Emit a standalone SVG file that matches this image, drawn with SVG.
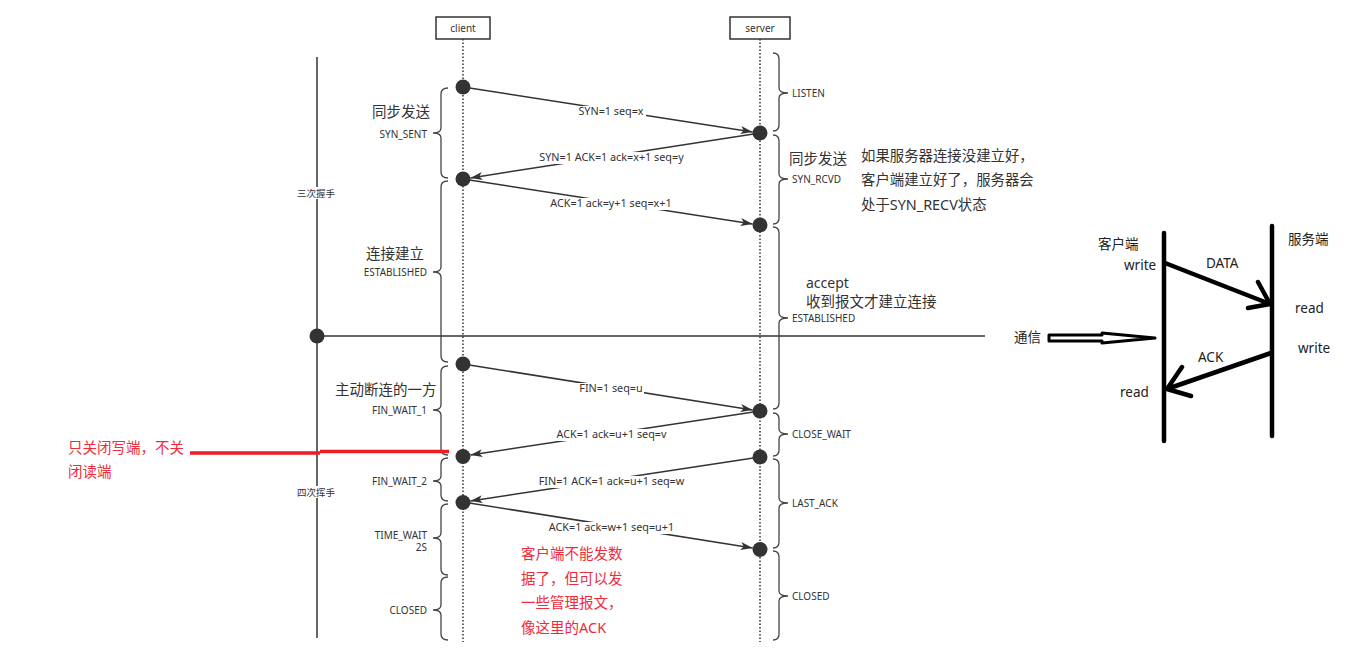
<svg xmlns="http://www.w3.org/2000/svg" width="1370" height="657" viewBox="0 0 1370 657">
<style>
text{font-family:"Noto Sans","Noto Sans CJK SC",sans-serif;fill:#333}
.sm{font-size:10px}
.st{font-size:10px}
.zh{font-size:14.5px}
.red{font-size:14.5px;fill:#ee2c3c}
.rt{font-size:13.5px;fill:#222}
.lbl{font-size:10.8px;text-anchor:middle}
.bg{fill:#fff}
.ln{stroke:#333;stroke-width:1.5;fill:none}
.msg{stroke:#333;stroke-width:1.5;fill:none;marker-end:url(#ah)}
.brace{stroke:#444;stroke-width:1.3;fill:none}
.life{stroke:#333;stroke-width:1.5;stroke-dasharray:1.5 2;fill:none}
.dot{fill:#333}
.box{fill:#fff;stroke:#333;stroke-width:1.5}
.thick{stroke:#000;stroke-width:4.5;fill:none;stroke-linecap:round;stroke-linejoin:round}
</style>
<defs>
<marker id="ah" markerUnits="userSpaceOnUse" markerWidth="13" markerHeight="9" refX="12" refY="4" orient="auto">
<path d="M0,0 L12,4 L0,8 L3,4 z" fill="#333"/>
</marker>
</defs>
<rect width="1370" height="657" fill="#fff"/>

<g id="client">
<line class="life" x1="463" y1="39" x2="463" y2="642"/>
<rect class="box" x="436" y="17" width="54" height="22"/>
<text class="sm" x="463" y="32" text-anchor="middle">client</text>
</g>
<g id="server">
<line class="life" x1="760" y1="39" x2="760" y2="642"/>
<rect class="box" x="730" y="17" width="60" height="22"/>
<text class="sm" x="760" y="32" text-anchor="middle">server</text>
</g>

<g id="timeline">
<line class="ln" x1="317" y1="57" x2="317" y2="638"/>
<line class="ln" x1="317" y1="336" x2="985" y2="336"/>
<circle class="dot" cx="317" cy="336" r="7.5"/>
<rect class="bg" x="297" y="187" width="40" height="12"/>
<rect class="bg" x="297" y="486" width="40" height="12"/>
<text class="st" x="316" y="196.5" text-anchor="middle" style="font-size:9.5px">三次握手</text>
<text class="st" x="316" y="496" text-anchor="middle" style="font-size:9.5px">四次挥手</text>
</g>

<g id="client-braces">
<path class="brace" d="M448,88 Q441,88 441,94 L441,128 Q441,133 433,133 Q441,133 441,138 L441,172 Q441,178 448,178"/>
<path class="brace" d="M448,181 Q441,181 441,187 L441,267 Q441,272 433,272 Q441,272 441,277 L441,356 Q441,362 448,362"/>
<path class="brace" d="M448,366 Q441,366 441,372 L441,405 Q441,410 433,410 Q441,410 441,415 L441,449 Q441,455 448,455"/>
<path class="brace" d="M448,458 Q441,458 441,464 L441,476 Q441,481 433,481 Q441,481 441,486 L441,495 Q441,501 448,501"/>
<path class="brace" d="M448,504 Q441,504 441,510 L441,533 Q441,538 433,538 Q441,538 441,543 L441,569 Q441,575 448,575"/>
<path class="brace" d="M448,577 Q441,577 441,583 L441,605 Q441,610 433,610 Q441,610 441,615 L441,634 Q441,640 448,640"/>
<text class="st" x="427" y="137.5" text-anchor="end">SYN_SENT</text>
<text class="st" x="427" y="275.5" text-anchor="end">ESTABLISHED</text>
<text class="st" x="427" y="413.5" text-anchor="end">FIN_WAIT_1</text>
<text class="st" x="427" y="484.5" text-anchor="end">FIN_WAIT_2</text>
<text class="st" x="427" y="538.5" text-anchor="end">TIME_WAIT</text>
<text class="st" x="427" y="550.5" text-anchor="end">2S</text>
<text class="st" x="427" y="613.5" text-anchor="end">CLOSED</text>
<text class="zh" x="372" y="117">同步发送</text>
<text class="zh" x="366" y="259">连接建立</text>
<text class="zh" x="335" y="395">主动断连的一方</text>
</g>

<g id="server-braces">
<path class="brace" d="M773,53 Q779,53 779,59 L779,88 Q779,93 788,93 Q779,93 779,98 L779,125 Q779,131 773,131"/>
<path class="brace" d="M773,135 Q779,135 779,141 L779,174 Q779,179 788,179 Q779,179 779,184 L779,218 Q779,224 773,224"/>
<path class="brace" d="M773,227 Q779,227 779,233 L779,313 Q779,318 788,318 Q779,318 779,323 L779,403 Q779,409 773,409"/>
<path class="brace" d="M773,413 Q779,413 779,419 L779,429 Q779,434 788,434 Q779,434 779,439 L779,450 Q779,456 773,456"/>
<path class="brace" d="M773,459 Q779,459 779,465 L779,498 Q779,503 788,503 Q779,503 779,508 L779,542 Q779,548 773,548"/>
<path class="brace" d="M773,551 Q779,551 779,557 L779,591 Q779,596 788,596 Q779,596 779,601 L779,634 Q779,640 773,640"/>
<text class="st" x="792" y="96.5">LISTEN</text>
<text class="st" x="792" y="182.5">SYN_RCVD</text>
<text class="st" x="792" y="321.5">ESTABLISHED</text>
<text class="st" x="792" y="437.5">CLOSE_WAIT</text>
<text class="st" x="792" y="506.5">LAST_ACK</text>
<text class="st" x="792" y="599.5">CLOSED</text>
<text class="zh" x="789" y="164">同步发送</text>
<text style="font-size:14.4px" x="861" y="161">如果服务器连接没建立好，</text>
<text style="font-size:14.4px" x="861" y="185">客户端建立好了，服务器会</text>
<text style="font-size:14.4px" x="861" y="210">处于SYN_RECV状态</text>
<text style="font-size:14px" x="806" y="288">accept</text>
<text style="font-size:14.5px" x="806" y="307">收到报文才建立连接</text>
</g>

<g id="connectors">
<path class="msg" d="M463,87 L752.6,131.9"/>
<path class="msg" d="M760,133 L470.4,177.9"/>
<path class="msg" d="M463,179 L752.6,223.9"/>
<path class="msg" d="M463,364 L752.6,409.9"/>
<path class="msg" d="M760,411 L470.4,454.9"/>
<path class="msg" d="M760,457 L470.4,500.9"/>
<path class="msg" d="M463,502 L752.6,547.9"/>
<rect class="bg" x="576" y="106" width="70" height="12"/>
<rect class="bg" x="536" y="152" width="151" height="12"/>
<rect class="bg" x="548" y="198" width="127" height="12"/>
<rect class="bg" x="578" y="383" width="66" height="12"/>
<rect class="bg" x="554" y="429" width="115" height="12"/>
<rect class="bg" x="536" y="476" width="151" height="12"/>
<rect class="bg" x="546" y="522" width="131" height="12"/>
<text class="lbl" x="611" y="115">SYN=1 seq=x</text>
<text class="lbl" x="611.5" y="161">SYN=1 ACK=1 ack=x+1 seq=y</text>
<text class="lbl" x="611" y="207">ACK=1 ack=y+1 seq=x+1</text>
<text class="lbl" x="611" y="392">FIN=1 seq=u</text>
<text class="lbl" x="611.5" y="438">ACK=1 ack=u+1 seq=v</text>
<text class="lbl" x="611.5" y="485">FIN=1 ACK=1 ack=u+1 seq=w</text>
<text class="lbl" x="611.5" y="531">ACK=1 ack=w+1 seq=u+1</text>
</g>

<g id="dots">
<circle class="dot" cx="463" cy="87" r="7.5"/>
<circle class="dot" cx="463" cy="179" r="7.5"/>
<circle class="dot" cx="463" cy="364" r="7.5"/>
<circle class="dot" cx="463" cy="456.5" r="7.5"/>
<circle class="dot" cx="463" cy="502.5" r="7.5"/>
<circle class="dot" cx="760" cy="133" r="7.5"/>
<circle class="dot" cx="760" cy="225" r="7.5"/>
<circle class="dot" cx="760" cy="411" r="7.5"/>
<circle class="dot" cx="760" cy="457" r="7.5"/>
<circle class="dot" cx="760" cy="549.5" r="7.5"/>
</g>

<g id="annotations">
<path d="M190,453 L320,453 M320,451.5 L449,451.5" stroke="#ee1c24" stroke-width="3.5" fill="none"/>
<text class="red" x="68" y="453">只关闭写端，不关</text>
<text class="red" x="68" y="477">闭读端</text>
<text class="red" x="521" y="559">客户端不能发数</text>
<text class="red" x="521" y="584">据了，但可以发</text>
<text class="red" x="521" y="608">一些管理报文，</text>
<text class="red" x="521" y="633">像这里的ACK</text>
</g>

<g id="comm-diagram">
<line class="thick" x1="1164" y1="233" x2="1164" y2="441"/>
<line class="thick" x1="1272" y1="226" x2="1272" y2="436"/>
<path class="thick" d="M1165,263 L1270,304 M1258,282 L1270,304 L1248,308"/>
<path class="thick" d="M1271,353 L1167,389 M1182,367 L1167,389 L1191,396"/>
<polygon points="1049,335 1102,335 1102,333 1155,338 1102,343 1102,341 1049,341" fill="#fff" stroke="#000" stroke-width="3" stroke-linejoin="round"/>
<text class="rt" x="1014" y="342">通信</text>
<text class="rt" x="1098" y="249">客户端</text>
<text class="rt" x="1288" y="244">服务端</text>
<text class="rt" x="1124" y="270">write</text>
<text class="rt" x="1206" y="268">DATA</text>
<text class="rt" x="1295" y="313">read</text>
<text class="rt" x="1298" y="353">write</text>
<text class="rt" x="1198" y="362">ACK</text>
<text class="rt" x="1120" y="397">read</text>
</g>
</svg>
